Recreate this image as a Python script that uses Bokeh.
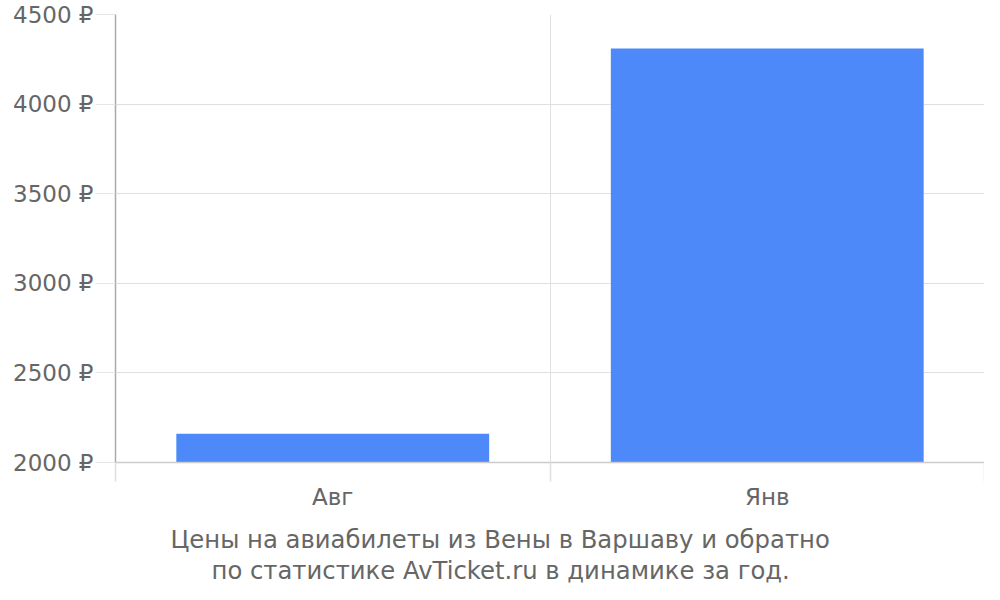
from bokeh.plotting import figure
from bokeh.models import Range1d, FixedTicker, PrintfTickFormatter, Title, LinearAxis
from bokeh.embed import file_html
from bokeh.resources import INLINE

months = ["Авг", "Янв"]
prices = [2160, 4310]
y_ticks = [2000, 2500, 3000, 3500, 4000, 4500]
title_lines = ["Цены на авиабилеты из Вены в Варшаву и обратно",
               "по статистике AvTicket.ru в динамике за год."]

FONT = "DejaVu Sans"
TXT = "#666666"

p = figure(width=984, height=584, output_backend="svg", toolbar_location=None,
           x_range=Range1d(0, len(months)), y_range=Range1d(y_ticks[0], y_ticks[-1]),
           min_border_left=115, min_border_right=0, min_border_top=14, min_border_bottom=122)
p.outline_line_color = None
p.background_fill_color = "white"

xs = [i + 0.5 for i in range(len(months))]
p.vbar(x=xs, top=prices, bottom=y_ticks[0], width=0.72, fill_color="#4d89f9", line_color=None)

# x axis
xa = p.xaxis[0]
xa.ticker = FixedTicker(ticks=xs, minor_ticks=list(range(len(months) + 1)))
xa.major_label_overrides = {x: m for x, m in zip(xs, months)}
xa.major_tick_out = 0
xa.major_tick_in = 0
xa.minor_tick_out = 19
xa.minor_tick_in = 0
xa.minor_tick_line_color = "#dddddd"
xa.minor_tick_line_width = 1.5
xa.axis_line_color = "#cccccc"
xa.axis_line_width = 1.5
xa.major_label_text_font = FONT
xa.major_label_text_font_size = "23px"
xa.major_label_text_color = TXT
xa.major_label_standoff = 2

# invisible spacer between the axis labels and the caption
spacer = LinearAxis(ticker=FixedTicker(ticks=[1]), major_label_overrides={1: ""},
                    major_tick_out=10, major_tick_in=0,
                    minor_tick_out=0, minor_tick_in=0, major_label_standoff=0,
                    axis_line_color=None, major_tick_line_color=None,
                    minor_tick_line_color=None)
p.add_layout(spacer, "below")

# y axis
ya = p.yaxis[0]
ya.ticker = FixedTicker(ticks=y_ticks)
ya.formatter = PrintfTickFormatter(format="%d ₽")
ya.major_tick_out = 20
ya.major_tick_in = 0
ya.major_tick_line_color = "#e6e6e6"
ya.minor_tick_line_color = None
ya.axis_line_color = "#aaaaaa"
ya.axis_line_width = 1.5
ya.major_label_text_font = FONT
ya.major_label_text_font_size = "23px"
ya.major_label_text_color = TXT
ya.major_label_standoff = 2

p.xgrid.ticker = FixedTicker(ticks=list(range(len(months) + 1)))
p.xgrid.grid_line_color = "#e0e0e0"
p.ygrid.grid_line_color = "#e0e0e0"
p.ygrid.ticker = FixedTicker(ticks=y_ticks)

# two-line caption below the chart
for line, off in zip(title_lines, [55, 96]):
    t = Title(text=line, align="left", offset=off, standoff=0, text_font=FONT,
              text_font_size="24.3px", text_color=TXT, text_font_style="normal")
    p.add_layout(t, "below")

open("out.html", "w").write(file_html(p, INLINE))
